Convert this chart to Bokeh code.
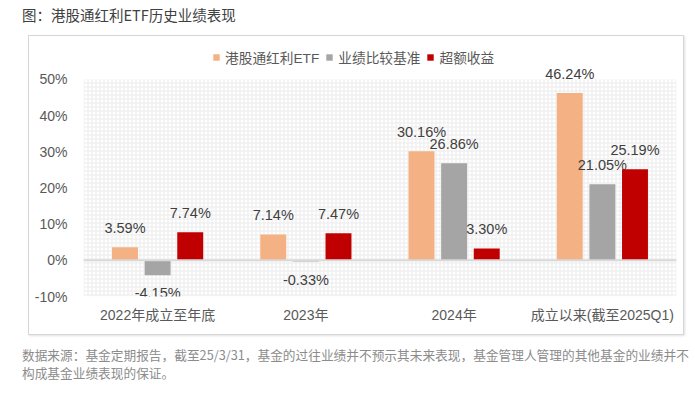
from bokeh.plotting import figure
from bokeh.models import (ColumnDataSource, FactorRange, Range1d, Legend, LegendItem,
                          Span, FixedTicker, Div, BoxAnnotation)
from bokeh.transform import dodge
from bokeh.layouts import column
from bokeh.core.properties import value
from bokeh.embed import file_html
from bokeh.resources import INLINE

# ---- data ----
categories = ["2022年成立至年底", "2023年", "2024年", "成立以来(截至2025Q1)"]
etf_returns = [3.59, 7.14, 30.16, 46.24]
benchmark_returns = [-4.15, -0.33, 26.86, 21.05]
excess_returns = [7.74, 7.47, 3.30, 25.19]
series_names = ["港股通红利ETF", "业绩比较基准", "超额收益"]
y_ticks = [-10, 0, 10, 20, 30, 40, 50]
y_tick_labels = {t: f"{t}%" for t in y_ticks}

title_text = "图：港股通红利ETF历史业绩表现"
footer_line1 = "数据来源：基金定期报告，截至25/3/31，基金的过往业绩并不预示其未来表现，基金管理人管理的其他基金的业绩并不"
footer_line2 = "构成基金业绩表现的保证。"

colors = ["#F4B183", "#A5A5A5", "#C00000"]
FONT = "Liberation Sans, Noto Sans CJK SC"

p = figure(x_range=FactorRange(*categories, range_padding=0), y_range=Range1d(-10, 58),
           width=656, height=300, output_backend="svg", toolbar_location=None,
           min_border_left=54, min_border_right=9, min_border_top=14, min_border_bottom=40)
p.margin = (7, 0, 0, 28)
p.styles = {"border": "1px solid #d6d6d6", "box-shadow": "1px 1px 2px rgba(0,0,0,0.12)"}
p.outline_line_color = None
p.background_fill_color = "white"
p.border_fill_color = "white"

# fine grid background (hatched plotting area between lowest and highest tick)
p.xgrid.grid_line_color = None
p.ygrid.grid_line_color = None
p.add_layout(BoxAnnotation(bottom=y_ticks[0], top=y_ticks[-1], fill_alpha=0, line_alpha=0,
                           level="underlay", hatch_pattern="+", hatch_scale=4, hatch_weight=1,
                           hatch_color="#ebebeb"))

offsets = [-0.22, 0.0, 0.22]
all_series = [etf_returns, benchmark_returns, excess_returns]
renderers = []
for vals, off, col in zip(all_series, offsets, colors):
    src = ColumnDataSource(dict(
        cat=categories, val=vals,
        lbl=[f"{v:.2f}%" for v in vals],
        yoff=[-19 if v >= 0 else 18 for v in vals],
    ))
    r = p.vbar(x=dodge("cat", off, range=p.x_range), top="val", bottom=0, width=0.175,
               source=src, fill_color=col, line_color=None)
    renderers.append(r)
    p.text(x=dodge("cat", off, range=p.x_range), y="val", text="lbl", y_offset="yoff",
           source=src, text_align="center", text_baseline="middle",
           text_font=value(FONT), text_font_size="14.5px", text_color="#404040")

p.add_layout(Span(location=0, dimension="width", line_color="#d9d9d9", line_width=2))

# axes
p.yaxis.ticker = FixedTicker(ticks=y_ticks)
p.yaxis.major_label_overrides = y_tick_labels
for ax in (p.xaxis[0], p.yaxis[0]):
    ax.axis_line_color = None
    ax.major_tick_line_color = None
    ax.minor_tick_line_color = None
    ax.major_label_text_font = FONT
    ax.major_label_text_font_size = "14px"
    ax.major_label_text_color = "#595959"
p.yaxis.major_label_standoff = 10
p.xaxis.major_label_standoff = 4

legend = Legend(items=[LegendItem(label=n, renderers=[r]) for n, r in zip(series_names, renderers)],
                orientation="horizontal", location=(129, 229),
                glyph_width=8, glyph_height=8, label_standoff=5, spacing=6, label_height=14,
                padding=0, margin=0, border_line_color=None, background_fill_alpha=0,
                label_text_font=FONT, label_text_font_size="13.7px", label_text_color="#595959")
p.add_layout(legend)

title_div = Div(text=title_text, width=400, height=20, margin=(8, 0, 0, 22),
                styles={"font-family": "'Noto Sans CJK SC', sans-serif", "font-size": "14.5px",
                        "line-height": "14px", "color": "#404040", "white-space": "nowrap"})
footer_div = Div(text=footer_line1 + "<br>" + footer_line2, width=665, height=40,
                 margin=(11, 0, 0, 22),
                 styles={"font-family": "'Noto Sans CJK SC', sans-serif", "font-size": "12.7px",
                         "line-height": "18px", "color": "#8c8c8c", "white-space": "nowrap"})

layout = column(title_div, p, footer_div, spacing=0)
open("out.html", "w").write(file_html(layout, INLINE))
